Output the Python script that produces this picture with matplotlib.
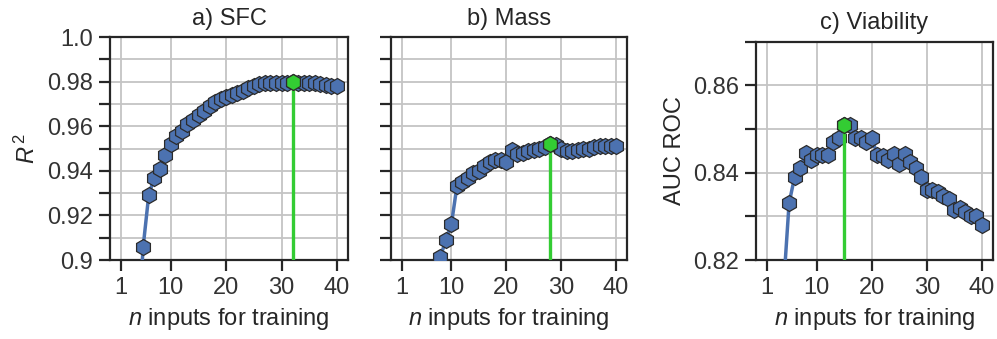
import numpy as np
import matplotlib.pyplot as plt

plt.rcParams['font.family'] = ['Liberation Sans', 'DejaVu Sans']
plt.rcParams['mathtext.fontset'] = 'custom'
plt.rcParams['mathtext.rm'] = 'Liberation Sans'
plt.rcParams['mathtext.it'] = 'Liberation Sans:italic'

n_inputs = list(range(1, 41))

sfc_r2 = [0.700, 0.780, 0.830, 0.866, 0.906, 0.929, 0.937, 0.941, 0.947, 0.952,
          0.9555, 0.958, 0.961, 0.963, 0.965, 0.967, 0.969, 0.971, 0.972, 0.973,
          0.974, 0.975, 0.976, 0.977, 0.978, 0.979, 0.9795, 0.9795, 0.9795, 0.9795,
          0.9795, 0.980, 0.9795, 0.9795, 0.9795, 0.9795, 0.979, 0.9785, 0.978, 0.978]

mass_r2 = [0.700, 0.760, 0.800, 0.830, 0.850, 0.870, 0.888, 0.9015, 0.909, 0.916,
           0.933, 0.935, 0.937, 0.939, 0.940, 0.942, 0.944, 0.945, 0.945, 0.944,
           0.9495, 0.9475, 0.948, 0.949, 0.9495, 0.950, 0.9505, 0.952, 0.9515, 0.950,
           0.949, 0.949, 0.9495, 0.950, 0.950, 0.9505, 0.951, 0.951, 0.951, 0.951]

viability_auc = [0.760, 0.780, 0.800, 0.814, 0.833, 0.839, 0.841, 0.8445, 0.843, 0.844,
                 0.844, 0.844, 0.847, 0.848, 0.851, 0.8508, 0.848, 0.848, 0.847, 0.848,
                 0.844, 0.8438, 0.843, 0.8443, 0.842, 0.8443, 0.8425, 0.841, 0.839, 0.836,
                 0.836, 0.8355, 0.8347, 0.834, 0.8315, 0.832, 0.831, 0.830, 0.830, 0.828]

titles = ['a) SFC', 'b) Mass', 'c) Viability']
ylabels = ['$R^{\\,2}$', None, 'AUC ROC']
x_ticks = [1, 10, 20, 30, 40]
r2_ticks = [0.9, 0.91, 0.92, 0.93, 0.94, 0.95, 0.96, 0.97, 0.98, 0.99, 1.0]
r2_labels = ['0.9', '', '0.92', '', '0.94', '', '0.96', '', '0.98', '', '1.0']
auc_ticks = [0.82, 0.83, 0.84, 0.85, 0.86, 0.87]
auc_labels = ['0.82', '', '0.84', '', '0.86', '']

blue = '#4c72b0'
green = '#33cc33'

fig = plt.figure(figsize=(9.97, 3.39), dpi=100)
axes = [fig.add_axes([0.1103, 0.233, 0.2387, 0.6578]),
        fig.add_axes([0.3922, 0.233, 0.2367, 0.6578]),
        fig.add_axes([0.7583, 0.233, 0.2377, 0.6445])]

panels = [(sfc_r2, r2_ticks, r2_labels),
          (mass_r2, r2_ticks, [''] * len(r2_ticks)),
          (viability_auc, auc_ticks, auc_labels)]

for ax, (vals, yt, ylab), title, ylabel in zip(axes, panels, titles, ylabels):
    vals = np.array(vals)
    ymin, ymax = yt[0], yt[-1]
    ax.plot(n_inputs, vals, color=blue, lw=2.5, marker='h', ms=11.5,
            mfc=blue, mec='#2b2b2b', mew=0.9, zorder=3)
    best = int(np.argmax(vals))
    ax.plot([n_inputs[best], n_inputs[best]], [ymin, vals[best]], color=green,
            lw=2.4, zorder=4, solid_capstyle='butt')
    ax.plot(n_inputs[best], vals[best], marker='h', ms=11.5, mfc=green,
            mec='#2b2b2b', mew=0.9, zorder=5)

    ax.set_xlim(-1, 42)
    ax.set_ylim(ymin, ymax)
    ax.set_xticks(x_ticks)
    ax.set_yticks(yt)
    ax.set_yticklabels(ylab)
    ax.grid(True, color='#c4c4c4', lw=1.3, zorder=0)
    ax.set_axisbelow(True)
    ax.tick_params(direction='out', length=8, width=1.6, labelsize=17,
                   colors='#262626', pad=4)
    ax.tick_params(labelcolor='#333333')
    for sp in ax.spines.values():
        sp.set_linewidth(1.6)
        sp.set_color('#262626')
    ax.set_title(title, fontsize=17, color='#262626', pad=9)
    ax.set_xlabel('$n$ inputs for training', fontsize=17, color='#262626', labelpad=5)
    if ylabel:
        ax.set_ylabel(ylabel, fontsize=17, color='#262626', labelpad=5)

fig.savefig('out.png', dpi=100)
